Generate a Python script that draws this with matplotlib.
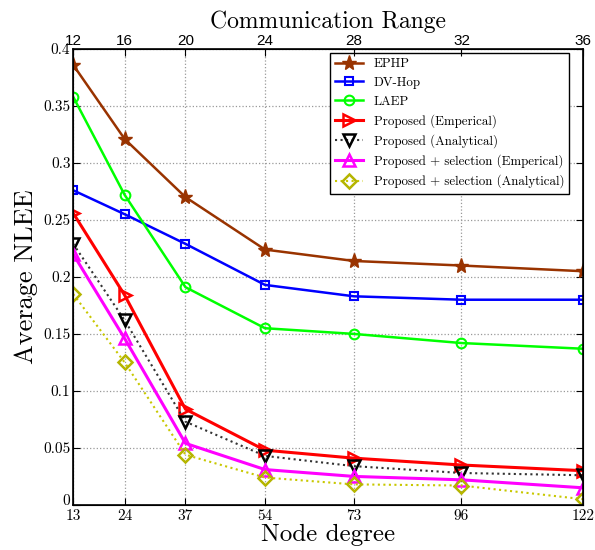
import matplotlib
matplotlib.use("Agg")
import matplotlib.pyplot as plt
from matplotlib.transforms import ScaledTranslation

degree = [13, 24, 37, 54, 73, 96, 122]
comm_range = [12, 16, 20, 24, 28, 32, 36]

ephp = [0.386, 0.321, 0.270, 0.224, 0.214, 0.210, 0.205]
dvhop = [0.276, 0.255, 0.229, 0.193, 0.183, 0.180, 0.180]
laep = [0.358, 0.272, 0.191, 0.155, 0.150, 0.142, 0.137]
prop_emp = [0.256, 0.184, 0.084, 0.048, 0.041, 0.035, 0.030]
prop_ana = [0.229, 0.162, 0.073, 0.043, 0.034, 0.028, 0.026]
sel_emp = [0.220, 0.146, 0.054, 0.031, 0.025, 0.022, 0.015]
sel_ana = [0.185, 0.125, 0.044, 0.024, 0.018, 0.017, 0.005]

plt.rcParams['font.family'] = ['cmr10', 'DejaVu Serif']
plt.rcParams['axes.formatter.use_mathtext'] = True

fig = plt.figure(figsize=(5.95, 5.5), dpi=100)
ax = fig.add_axes([0.123, 0.082, 0.857, 0.829])

ax.plot(degree, ephp, color='#993300', lw=1.8, marker='*', ms=11, label='EPHP')
ax.plot(degree, dvhop, color='#0000ff', lw=1.8, marker='s', ms=6, mfc='none', mew=1.5, label='DV-Hop')
ax.plot(degree, laep, color='#00ff00', lw=1.8, marker='o', ms=7, mfc='none', mew=1.5, label='LAEP')
ax.plot(degree, prop_emp, color='#ff0000', lw=2.2, marker='>', ms=9, mfc='none', mew=1.8, label='Proposed (Emperical)')
ax.plot(degree, prop_ana, color='#333333', lw=1.5, ls=':', marker='v', ms=9, mfc='none', mec='black', mew=1.8, label='Proposed (Analytical)')
ax.plot(degree, sel_emp, color='#ff00ff', lw=2.2, marker='^', ms=9, mfc='none', mew=1.8, label='Proposed + selection (Emperical)')
ax.plot(degree, sel_ana, color='#c8c800', lw=1.5, ls=':', marker='D', ms=7, mfc='none', mec='#b5b500', mew=1.8, label='Proposed + selection (Analytical)')

ax.set_xlim(13, 122)
ax.set_ylim(0, 0.4)
ax.set_xticks(degree)
ax.set_xticklabels([str(d) for d in degree])
ax.set_yticks([0, 0.05, 0.1, 0.15, 0.2, 0.25, 0.3, 0.35, 0.4])
ax.set_yticklabels(['0', '0.05', '0.1', '0.15', '0.2', '0.25', '0.3', '0.35', '0.4'])
ax.tick_params(direction='in', labelsize=11, right=True, length=5, pad=2)
ax.tick_params(axis='x', pad=3)
ax.grid(True, ls=':', color='#999999', lw=0.9)
for s in ax.spines.values():
    s.set_linewidth(1.2)

# nudge the "0" tick label up a little so it clears "13"
zero = ax.get_yticklabels()[0]
zero.set_transform(zero.get_transform() + ScaledTranslation(0, 4 / 72, fig.dpi_scale_trans))

ax.set_xlabel('Node degree', fontsize=18, labelpad=1)
ax.set_ylabel('Average NLEE', fontsize=19, labelpad=4)

top = ax.twiny()
top.set_xlim(ax.get_xlim())
top.set_xticks(degree)
top.set_xticklabels([str(r) for r in comm_range], family=['Liberation Sans'], fontsize=11)
top.tick_params(direction='in', length=5, pad=1)
top.set_xlabel('Communication Range', fontsize=17, labelpad=4)

leg = ax.legend(loc='upper right', bbox_to_anchor=(0.973, 0.991), borderaxespad=0,
                fontsize=9.3, fancybox=False, edgecolor='black',
                framealpha=1, handlelength=2.2, labelspacing=0.5)
leg.get_frame().set_linewidth(1.0)

fig.savefig('out.png', dpi=100)
